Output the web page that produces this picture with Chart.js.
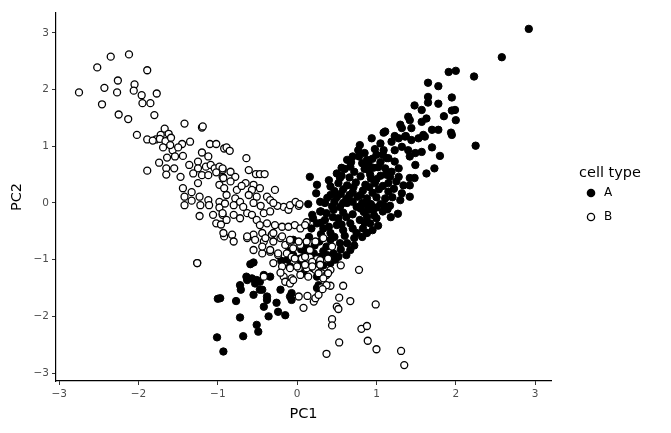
<!DOCTYPE html>
<html>
<head>
<meta charset="utf-8">
<script src="https://cdn.jsdelivr.net/npm/chart.js@4/dist/chart.umd.min.js"></script>
<style>
  html, body { margin: 0; padding: 0; background: #ffffff; }
  #wrap { width: 671px; height: 433px; position: relative; }
</style>
</head>
<body>
<div id="wrap"><canvas id="c" width="671" height="433"></canvas></div>
<script>
// ---------- data ----------
const cellTypes = ['A', 'B'];
const xTicks = [-3, -2, -1, 0, 1, 2, 3];
const yTicks = [-3, -2, -1, 0, 1, 2, 3];
const axisTitles = ['PC1', 'PC2'];
const legendTitle = 'cell type';

const cellA = [
  [2.92,3.07],[2.58,2.57],[2.23,2.23],[1.91,2.31],[2.0,2.33],[1.65,2.12],[1.78,2.06],[1.65,1.87],[1.65,1.77],[1.95,1.86],
  [1.78,1.75],[1.48,1.72],[1.57,1.64],[1.95,1.63],[1.99,1.64],[1.85,1.53],[2.0,1.46],[1.4,1.52],[1.42,1.46],[1.63,1.49],
  [1.57,1.43],[1.3,1.38],[1.32,1.32],[1.44,1.32],[1.7,1.29],[1.78,1.29],[1.94,1.24],[1.11,1.26],[1.23,1.18],[1.37,1.18],
  [1.59,1.2],[2.25,1.01],[1.7,0.98],[1.8,0.83],[1.57,0.9],[1.49,0.67],[1.63,0.52],[1.73,0.61],[1.42,0.44],[1.48,0.44],
  [1.34,0.31],[1.42,0.31],[1.32,0.17],[1.42,0.11],[1.15,0.2],[1.11,0.08],[1.17,-0.05],[1.14,-0.11],[1.27,-0.19],[1.19,1.08],
  [1.28,1.14],[1.36,1.17],[1.44,1.11],[1.53,1.14],[1.61,1.17],[1.23,0.93],[1.32,0.99],[1.4,0.93],[1.49,0.88],[1.42,0.82],
  [1.15,0.79],[1.23,0.73],[1.11,0.61],[1.19,0.55],[1.28,0.61],[1.28,0.46],[1.17,0.46],[1.95,1.2],
  [0.16,0.46],[0.25,0.32],[0.24,0.17],[0.29,0.02],[0.14,-0.02],[0.42,0.29],[0.42,0.14],[0.5,0.52],[0.54,0.44],[0.63,0.76],
  [0.67,0.64],[0.77,0.93],[0.79,1.02],[0.94,1.14],[1.05,1.05],[1.09,0.93],[1.0,0.85],[0.88,0.76],[1.13,0.79],[1.09,1.24],
  [0.7,0.82],[0.85,0.88],[0.98,0.95],[1.05,0.72],[0.6,0.6],[0.9,0.7],[0.96,0.62],[0.85,0.6],[0.72,0.55],
  [0.9,0.58],[1.02,0.63],[0.66,0.45],[0.8,0.47],[0.93,0.43],[1.05,0.48],[0.52,0.35],[0.63,0.31],[0.74,0.36],[0.86,0.32],
  [0.98,0.35],[1.08,0.3],[0.47,0.21],[0.58,0.24],[0.7,0.19],[0.83,0.22],[0.95,0.18],[1.03,0.24],[0.38,0.09],[0.5,0.1],
  [0.62,0.07],[0.76,0.11],[0.88,0.08],[1.0,0.1],
  [0.37,-0.18],[0.46,-0.12],[0.54,-0.07],[0.63,0.0],[0.75,-0.07],[0.88,-0.04],[0.96,-0.12],[1.05,-0.02],
  [0.3,-0.15],[0.45,-0.25],[0.58,-0.17],[0.7,-0.2],[0.84,-0.16],[0.97,-0.22],[1.08,-0.15],
  [0.2,-0.27],[0.35,-0.3],[0.52,-0.27],[0.62,-0.25],[0.88,-0.25],
  [0.25,-0.36],[0.33,-0.45],[0.42,-0.53],[0.5,-0.39],[0.58,-0.48],[0.67,-0.36],[0.79,-0.3],[0.92,-0.36],[1.0,-0.27],[0.88,-0.53],
  [0.75,-0.53],[0.63,-0.71],[0.54,-0.71],[0.67,-0.83],[0.37,-0.77],[0.46,-0.89],[0.42,-1.06],[0.48,-1.0],
  [0.3,-0.55],[0.47,-0.6],[0.6,-0.58],[0.72,-0.62],[0.83,-0.45],[0.15,-0.6],[0.28,-0.68],[0.42,-0.65],[0.05,-0.82],[0.22,-0.75],
  [0.33,-0.85],[0.55,-0.82],
  [-0.05,-0.65],[0.04,-0.71],[0.12,-0.8],[0.21,-0.89],[0.29,-0.95],[0.04,-0.98],[-0.09,-1.12],[0.08,-1.24],[0.25,-1.3],
  [-0.05,-0.92],[0.1,-0.92],[0.25,-1.02],[0.38,-0.92],[-0.12,-1.0],[0.05,-1.05],[0.2,-1.15],[0.33,-1.1],[-0.2,-1.02],[-0.1,-0.85],
  [0.29,-0.15],[0.19,-0.21],
  [0.56,0.62],[0.68,0.72],[0.82,0.7],[0.95,0.78],[1.08,0.85],[0.78,0.82],[0.92,0.5],[1.15,0.35],[1.22,0.25],[1.2,0.1],
  [1.1,-0.05],[1.0,-0.08],[0.93,-0.02],[0.82,0.0],[0.7,0.02],[0.58,0.0],[0.47,0.02],[0.35,0.0],[0.4,0.4],[0.56,0.48],
  [0.71,0.28],[0.8,0.14],[0.91,0.28],[1.0,0.42],[1.12,0.5],[0.66,0.14],[0.55,0.16],[0.44,-0.06],[0.8,-0.1],[0.9,-0.12],
  [1.02,-0.4],[0.95,-0.48],[0.82,-0.6],[0.7,-0.45],[0.56,-0.38],[0.4,-0.42],[0.3,-0.35],[0.18,-0.45],[0.62,-0.92],[0.52,-0.95],
  [0.72,-0.75],[0.85,-0.35],[1.18,-0.25],[1.3,0.05],[1.25,0.38],
  [-0.59,-1.08],[-0.64,-1.3],[-0.57,-1.33],[-0.53,-1.42],[-0.72,-1.45],[-0.71,-1.53],[-0.47,-1.39],[-0.44,-1.53],[-0.42,-1.27],[-0.34,-1.3],
  [-0.55,-1.62],[-0.38,-1.71],[-0.42,-1.83],[-0.26,-1.76],[-0.24,-1.92],[-0.15,-1.98],[-0.36,-2.0],[-0.77,-1.73],[-0.72,-2.02],[-0.51,-2.15],
  [-0.49,-2.27],[-0.68,-2.35],[-0.93,-2.62],[-0.97,-1.68],[-0.07,-1.59],[-0.07,-1.71],[0.25,-1.5],[-1.0,-1.69],[-1.01,-2.37],[-0.63,-1.36],
  [-0.51,-1.36],[-0.47,-1.53],[-0.38,-1.65],[-0.21,-1.53],[-0.09,-1.65],[0.27,-1.45],[-0.55,-1.05]
];

const cellB = [
  [-2.75,1.95],[-2.35,2.58],[-2.12,2.62],[-2.52,2.39],[-1.89,2.34],[-2.26,2.16],[-2.43,2.03],[-2.27,1.95],[-2.05,2.09],[-2.06,1.98],
  [-1.96,1.9],[-1.77,1.93],[-2.46,1.74],[-1.95,1.76],[-1.85,1.76],[-2.25,1.56],[-2.13,1.48],[-1.8,1.55],[-1.42,1.4],[-1.2,1.33],
  [-1.19,1.35],[-2.02,1.2],[-1.89,1.12],[-1.67,1.31],[-1.72,1.2],[-1.62,1.22],[-1.78,1.12],
  [-1.82,1.1],[-1.73,1.13],[-1.66,1.09],[-1.59,1.15],[-1.69,0.98],[-1.57,0.93],[-1.45,1.04],[-1.5,0.98],[-1.6,1.02],[-1.35,1.08],
  [-1.1,1.04],[-1.02,1.04],[-0.92,0.96],[-1.2,0.89],[-1.12,0.82],[-1.64,0.8],[-1.54,0.82],[-1.44,0.83],[-1.74,0.71],[-1.65,0.61],
  [-1.55,0.61],[-1.89,0.57],[-1.65,0.5],[-1.47,0.46],[-1.36,0.67],[-1.25,0.73],[-1.25,0.61],[-1.15,0.64],[-1.09,0.67],[-1.04,0.61],
  [-0.98,0.64],[-0.94,0.58],[-1.31,0.52],[-1.2,0.49],[-1.12,0.49],[-1.02,0.54],[-0.94,0.46],[-1.25,0.35],[-0.98,0.32],[-0.92,0.26],
  [-1.44,0.26],[-1.33,0.19],[-1.42,0.11],[-1.23,0.11],[-1.12,0.05],[-1.33,0.04],[-1.42,-0.04],[-1.22,-0.04],[-1.11,-0.04],[-0.98,0.02],
  [-0.98,-0.08],[-1.23,-0.23],[-1.06,-0.21],[-0.94,-0.21],[-1.02,-0.36],[-0.96,-0.38],[-0.92,-0.59],[-1.26,-1.06],
  [-0.89,0.98],[-0.85,0.92],[-0.64,0.79],[-0.61,0.58],[-0.52,0.51],[-0.47,0.51],[-0.41,0.51],[-0.94,0.61],[-0.84,0.55],[-0.78,0.46],
  [-0.93,0.44],[-0.84,0.38],[-0.55,0.32],[-0.57,0.23],[-0.47,0.26],[-0.61,0.14],[-0.51,0.11],[-0.38,0.11],[-0.28,0.23],[-0.34,0.05],
  [-0.76,0.23],[-0.78,0.08],[-0.89,0.14],[-0.91,-0.01],[-0.8,-0.04],[-0.72,0.02],[-0.68,-0.07],[-0.17,-0.07],[-0.11,-0.12],[-0.09,-0.04],
  [0.02,-0.05],[0.12,-0.34],[-0.94,-0.18],[-0.89,-0.3],[-0.8,-0.21],[-0.72,-0.27],[-0.63,-0.18],[-0.57,-0.21],[-0.51,-0.3],[-0.42,-0.18],
  [-0.34,-0.15],[-0.47,-0.39],[-0.38,-0.36],[-0.28,-0.39],[-0.19,-0.42],[-0.11,-0.42],[-0.03,-0.39],[0.04,-0.45],[0.1,-0.39],[-0.93,-0.53],
  [-0.82,-0.56],[-0.8,-0.68],[-0.63,-0.62],[-0.55,-0.56],[-0.44,-0.53],[-0.42,-0.68],[-0.32,-0.56],[-0.3,-0.68],[-0.21,-0.62],[-0.15,-0.74],
  [-0.09,-0.68],[-0.05,-0.8],[0.04,-0.74],[0.12,-0.68],[0.16,-0.83],[-0.55,-0.83],[-0.44,-0.89],[-0.34,-0.86],[-0.24,-0.92],[-0.13,-0.89],
  [-0.07,-0.95],[0.06,-0.98],[0.16,-0.96],[0.25,-0.99],
  [-0.02,0.02],[0.03,-0.02],[-0.55,0.0],[-0.46,-0.05],[-0.25,-0.05],[-0.3,0.0],[-0.65,0.35],[-0.7,0.3],
  [-0.63,-0.59],[-0.53,-0.65],[-0.4,-0.62],[-0.3,-0.53],[-0.19,-0.59],[-0.09,-0.65],[0.02,-0.68],[0.23,-0.68],[0.33,-0.62],[0.44,-0.77],
  [-0.44,-0.77],[-0.34,-0.83],[-0.24,-0.89],[-0.03,-0.98],[0.1,-0.95],[0.19,-1.04],[0.29,-1.01],[0.39,-0.98],[-0.3,-1.06],[-0.19,-1.12],
  [-0.09,-1.15],[0.02,-1.15],[0.12,-1.15],[0.23,-1.18],[0.31,-1.24],[0.42,-1.18],[-0.17,-1.3],[-0.07,-1.33],[0.14,-1.3],[0.27,-1.24],
  [0.55,-1.1],[0.78,-1.18],[0.42,-1.46],[0.58,-1.46],[0.53,-1.67],[0.67,-1.73],[0.5,-1.83],[0.52,-1.87],[0.99,-1.79],[0.44,-2.05],
  [0.44,-2.16],[0.81,-2.22],[0.88,-2.17],[0.89,-2.43],[1.0,-2.58],[0.53,-2.46],[0.37,-2.66],[0.08,-1.85],[0.21,-1.74],[0.23,-1.68],
  [0.13,-1.64],[0.02,-1.65],[0.31,-1.49],[0.27,-1.62],[-0.42,-1.3],[-0.21,-1.23],[-0.15,-1.39],[-0.09,-1.42],[-0.05,-1.36],[0.04,-1.27],
  [0.37,-1.27],[0.0,-1.12],[0.1,-1.09],[0.19,-1.12],[0.29,-1.09],[0.39,-1.24],[0.33,-1.33],[0.37,-1.45],[0.32,-1.52],[1.31,-2.61],
  [1.35,-2.86],[-1.26,-1.06]
];

// ---------- chart ----------
const toXY = arr => arr.map(p => ({ x: p[0], y: p[1] }));
const fmt = v => (v < 0 ? '\u2212' + Math.abs(v) : String(v));
const FONT = "'DejaVu Sans', sans-serif";

const legendPlugin = {
  id: 'ggLegend',
  afterDraw(chart) {
    const ctx = chart.ctx;
    ctx.save();
    ctx.fillStyle = '#000000';
    ctx.font = "14.5px 'DejaVu Sans', sans-serif";
    ctx.textBaseline = 'middle';
    ctx.textAlign = 'left';
    ctx.fillText(legendTitle, 579, 173);
    const rows = [193, 217];
    cellTypes.forEach((t, i) => {
      const y = rows[i];
      ctx.beginPath();
      if (i === 0) {
        ctx.arc(591, y, 4.3, 0, Math.PI * 2);
        ctx.fillStyle = '#000000';
        ctx.fill();
      } else {
        ctx.arc(591, y, 3.6, 0, Math.PI * 2);
        ctx.fillStyle = '#ffffff';
        ctx.fill();
        ctx.lineWidth = 1.3;
        ctx.strokeStyle = '#000000';
        ctx.stroke();
      }
      ctx.fillStyle = '#000000';
      ctx.font = "12px 'DejaVu Sans', sans-serif";
      ctx.fillText(t, 604, y);
    });
    ctx.restore();
  }
};

new Chart(document.getElementById('c'), {
  type: 'scatter',
  data: {
    datasets: [
      {
        label: cellTypes[1],
        data: toXY(cellB),
        pointRadius: 3.5,
        pointBorderWidth: 1.3,
        pointBackgroundColor: '#ffffff',
        pointBorderColor: '#000000',
        pointHoverRadius: 3.5
      },
      {
        label: cellTypes[0],
        data: toXY(cellA),
        pointRadius: 3.7,
        pointBorderWidth: 1,
        pointBackgroundColor: '#000000',
        pointBorderColor: '#000000',
        pointHoverRadius: 3.7
      }
    ]
  },
  options: {
    responsive: false,
    animation: false,
    devicePixelRatio: 1,
    layout: { padding: { left: 0, top: 13, right: 120, bottom: 0 } },
    plugins: { legend: { display: false }, tooltip: { enabled: false } },
    scales: {
      x: {
        type: 'linear',
        min: -3.04,
        max: 3.2,
        afterBuildTicks: s => { s.ticks = xTicks.map(v => ({ value: v })); },
        afterFit: s => { s.height = 52; },
        ticks: {
          includeBounds: false,
          callback: v => fmt(v),
          color: '#4d4d4d',
          font: { family: FONT, size: 10.5 },
          padding: 3,
          maxRotation: 0
        },
        grid: { drawOnChartArea: false, drawTicks: true, tickLength: 4, color: '#333333', tickWidth: 1 },
        border: { display: true, color: '#000000', width: 1.2 },
        title: { display: true, text: axisTitles[0], color: '#000000', font: { family: FONT, size: 14.5 }, padding: { top: 0, bottom: 10 } }
      },
      y: {
        type: 'linear',
        min: -3.14,
        max: 3.35,
        afterBuildTicks: s => { s.ticks = yTicks.map(v => ({ value: v })); },
        afterFit: s => { s.width = 56; },
        ticks: {
          includeBounds: false,
          callback: v => fmt(v),
          color: '#4d4d4d',
          font: { family: FONT, size: 10.5 },
          padding: 3
        },
        grid: { drawOnChartArea: false, drawTicks: true, tickLength: 4, color: '#333333', tickWidth: 1 },
        border: { display: true, color: '#000000', width: 1.2 },
        title: { display: true, text: axisTitles[1], color: '#000000', font: { family: FONT, size: 14.5 }, padding: { top: 9, bottom: 0 } }
      }
    }
  },
  plugins: [legendPlugin]
});
</script>
</body>
</html>
